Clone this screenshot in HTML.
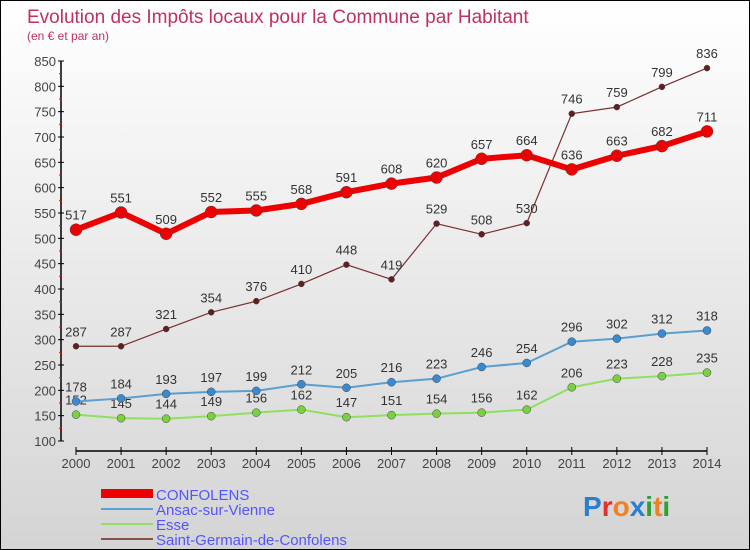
<!DOCTYPE html>
<html><head><meta charset="utf-8"><style>
body{margin:0}
#c{width:750px;height:550px;position:relative;box-sizing:border-box;border:1px solid #000;background:linear-gradient(#fff,#d4d4d4);font-family:"Liberation Sans",sans-serif;overflow:hidden}
</style></head><body>
<div id="c">
<svg width="748" height="548" style="position:absolute;left:0;top:0">
<text x="26" y="22" font-size="19" fill="#c03060">Evolution des Impôts locaux pour la Commune par Habitant</text>
<text x="26" y="39" font-size="12" fill="#c03060">(en € et par an)</text>
<g id="axes"></g><g id="series"></g>
<g>
<rect x="100" y="488" width="52" height="9" fill="#e00"/>
<text x="155" y="499" font-size="15" fill="#55f">CONFOLENS</text>
<rect x="100" y="507" width="52" height="2" fill="#5a9fd0"/>
<text x="155" y="514" font-size="15" fill="#55f">Ansac-sur-Vienne</text>
<rect x="100" y="522" width="52" height="2" fill="#8fe060"/>
<text x="155" y="529" font-size="15" fill="#55f">Esse</text>
<rect x="100" y="537" width="52" height="2" fill="#8a5050"/>
<text x="155" y="544" font-size="15" fill="#55f">Saint-Germain-de-Confolens</text>
</g>
<text x="582" y="515" font-size="28" font-weight="bold"><tspan fill="#2a7fd0">P</tspan><tspan fill="#e03030">r</tspan><tspan fill="#f08020">o</tspan><tspan fill="#2a7fd0">x</tspan><tspan fill="#30a030">i</tspan><tspan fill="#f08020">t</tspan><tspan fill="#30a030">i</tspan></text>
</svg>
</div>
<script>
const years=[2000,2001,2002,2003,2004,2005,2006,2007,2008,2009,2010,2011,2012,2013,2014];
const confolens=[517,551,509,552,555,568,591,608,620,657,664,636,663,682,711];
const ansac=[178,184,193,197,199,212,205,216,223,246,254,296,302,312,318];
const esse=[152,145,144,149,156,162,147,151,154,156,162,206,223,228,235];
const saintGermain=[287,287,321,354,376,410,448,419,529,508,530,746,759,799,836];
const yTicks=[100,150,200,250,300,350,400,450,500,550,600,650,700,750,800,850];
const NS="http://www.w3.org/2000/svg";
const X=i=>75+i*(631/14);
const Y=v=>440-(v-100)*(380/750);
function mk(t,a,p){const e=document.createElementNS(NS,t);for(const k in a)e.setAttribute(k,a[k]);p.appendChild(e);return e;}
const ax=document.getElementById('axes');
let l=mk('line',{x1:60,y1:Y(850),x2:60,y2:Y(100),stroke:'#000','stroke-width':1.5},ax);


yTicks.forEach((v,k)=>{
 let t=mk('line',{x1:57,y1:Y(v),x2:63,y2:Y(v),stroke:'#000'},ax);
 
 
 if(k<yTicks.length-1){
 let r=mk('line',{x1:58,y1:Y(v+25),x2:61,y2:Y(v+25),stroke:'#f00'},ax);
 
 
 }
 let tx=mk('text',{x:55,y:Y(v)+5,'font-size':13,fill:'#444','text-anchor':'end'},ax);
 tx.textContent=v;
 
 
});
l=mk('line',{x1:X(0),y1:450,x2:X(14),y2:450,stroke:'#000','stroke-width':1.5},ax);


years.forEach((y,i)=>{
 let t=mk('line',{x1:X(i),y1:446,x2:X(i),y2:454,stroke:'#000'},ax);
 
 
 let tx=mk('text',{x:X(i),y:467,'font-size':13,fill:'#444','text-anchor':'middle'},ax);
 tx.textContent=y;
 
 
});
const sg=document.getElementById('series');
function series(name,data,color,w,r,dot){
 const g=mk('g',{},sg);
 
 
 const p=mk('polyline',{points:data.map((v,i)=>X(i)+','+Y(v)).join(' '),fill:'none',stroke:color,'stroke-width':w},g);
 
 
 data.forEach((v,i)=>{
  const c=mk('circle',{cx:X(i),cy:Y(v),r:r,fill:dot,stroke:'#444','stroke-width':0.5},g);
  
  
  const t=mk('text',{x:X(i),y:Y(v)-10,'font-size':13,fill:'#333','text-anchor':'middle'},g);
  t.textContent=v;
  
  
 });
}
series('esse',esse,'#8fe060',2,4,'#7ad040');
series('ansac',ansac,'#5a9fd0',2,4,'#3a8ad0');
series('saint-germain',saintGermain,'#7a3030',1.2,3,'#602020');
series('confolens',confolens,'#e00',6,6,'#e00');
</script>
</body></html>
